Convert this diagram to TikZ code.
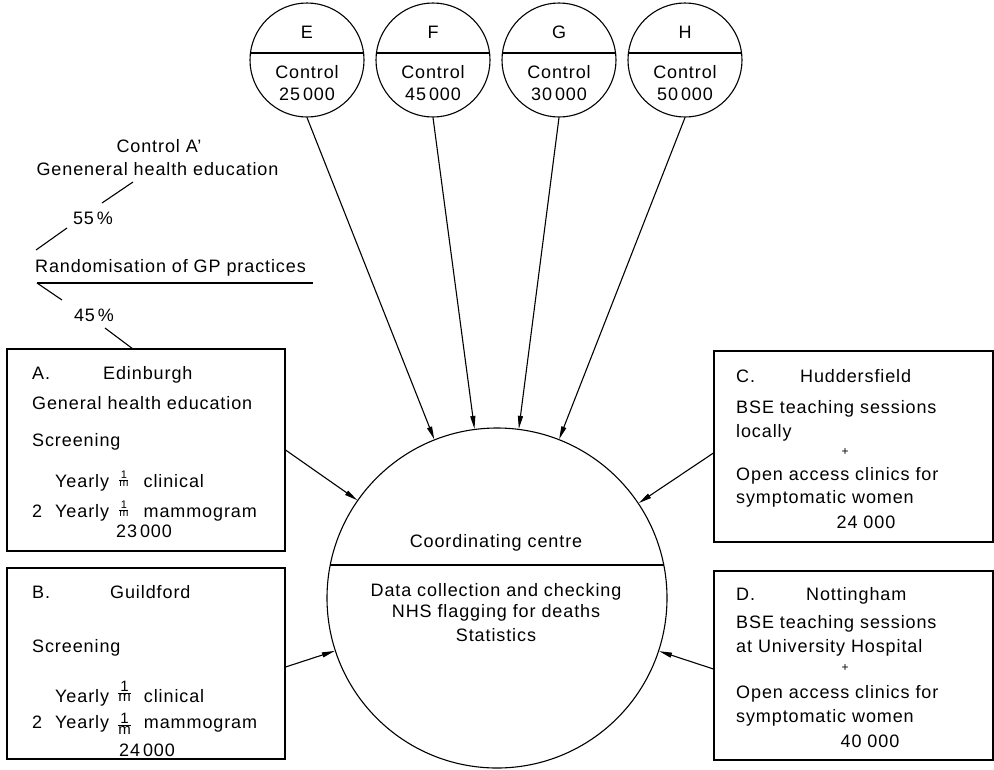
\documentclass[tikz,border=0pt]{standalone}
\usepackage{fontspec}
\setmainfont{Liberation Sans}[LetterSpace=5]
\usetikzlibrary{arrows.meta}
\newcommand{\fr}[2]{\raisebox{#2}{\fontsize{#1}{#1}\selectfont$\frac{\mbox{1}}{\mbox{m}}$}}
\begin{document}
\begin{tikzpicture}[x=1pt,y=-1pt,
  every node/.style={font=\fontsize{18}{22}\selectfont, inner sep=0pt},
  lt/.style={anchor=base west},
  ct/.style={anchor=base},
  frame/.style={draw, line width=1.1pt, rectangle},
  ring/.style={draw, line width=1.1pt, circle, minimum size=#1},
  conn/.style={line width=1.1pt},
  arr/.style={line width=1.1pt, -{Triangle[length=13pt,width=5pt]}}]

\useasboundingbox (0,0) rectangle (994,769);

% coordinating centre
\node[ring=340pt] (cc) at (497,598) {};
\coordinate (ccL) at (330.2,565);
\coordinate (ccR) at (663.8,565);
\draw[conn] (ccL) -- (ccR);
\node[ct] (cc1) at (496,547) {Coordinating centre};
\node[ct] (cc2) at (496,596) {Data collection and checking};
\node[ct] (cc3) at (496,617) {NHS flagging for deaths};
\node[ct] (cc4) at (496,641) {Statistics};

% control circles
\foreach \n/\x/\v in {E/307/25,F/433/45,G/559/30,H/685/50} {
  \node[ring=114pt] (c\n) at (\x,60) {};
  \draw[conn] ([xshift=-56.6pt,yshift=7pt]c\n.center) -- ([xshift=56.6pt,yshift=7pt]c\n.center);
  \node[ct] (l\n) at (\x,38) {\n};
  \node[ct] (k\n) at (\x,78) {Control};
  \node[ct] (v\n) at (\x,100) {\v\,000};
  \draw[arr] (c\n.south) -- (cc);
}

% boxes
\node[frame, minimum width=278pt, minimum height=202pt] (bA) at (146,450) {};
\node[frame, minimum width=278pt, minimum height=191pt] (bB) at (146,663.5) {};
\node[frame, minimum width=279pt, minimum height=191pt] (bC) at (853.5,446.5) {};
\node[frame, minimum width=279pt, minimum height=189pt] (bD) at (853.5,665.5) {};

\draw[arr] (bA.east) -- (cc);
\draw[arr] ([yshift=-3.5pt]bB.east) -- (cc);
\draw[arr] ([yshift=-6.5pt]bC.west) -- (cc);
\draw[arr] ([yshift=-3.5pt]bD.west) -- (cc);

% box A
\node[lt] (a1) at (32,379) {A.};
\node[lt] (a2) at (103,379) {Edinburgh};
\node[lt] (a3) at (32,409) {General health education};
\node[lt] (a4) at (32,446) {Screening};
\node[lt] (a5) at (55,487) {Yearly\hspace{9pt}\fr{11pt}{3.8pt}\hspace{14pt}clinical};
\node[lt] (a6n) at (32,517) {2};
\node[lt] (a6) at (55,517) {Yearly\hspace{9pt}\fr{11pt}{3.8pt}\hspace{14pt}mammogram};
\node[ct] (a7) at (144,537) {23\,000};

% box B
\node[lt] (b1) at (32,598) {B.};
\node[lt] (b2) at (110,598) {Guildford};
\node[lt] (b3) at (32,652) {Screening};
\node[lt] (b4) at (55,702) {Yearly\hspace{8pt}\fr{15pt}{5.2pt}\hspace{12pt}clinical};
\node[lt] (b5n) at (32,728) {2};
\node[lt] (b5) at (55,728) {Yearly\hspace{8pt}\fr{15pt}{-1pt}\hspace{12pt}mammogram};
\node[ct] (b6) at (147,756) {24\,000};

% box C
\node[lt] (c1) at (736,382) {C.};
\node[lt] (c2) at (800,382) {Huddersfield};
\node[lt] (c3) at (736,413) {BSE teaching sessions};
\node[lt] (c4) at (736,437) {locally};
\node[font=\fontsize{12}{12}\selectfont] (c5) at (845,452) {+};
\node[lt] (c6) at (736,480) {Open access clinics for};
\node[lt] (c7) at (736,503) {symptomatic women};
\node[ct] (c8) at (866,528) {24 000};

% box D
\node[lt] (d1) at (736,600) {D.};
\node[lt] (d2) at (806,600) {Nottingham};
\node[lt] (d3) at (736,628) {BSE teaching sessions};
\node[lt] (d4) at (736,652) {at University Hospital};
\node[font=\fontsize{12}{12}\selectfont] (d5) at (845,668) {+};
\node[lt] (d6) at (736,698) {Open access clinics for};
\node[lt] (d7) at (736,722) {symptomatic women};
\node[ct] (d8) at (870,747) {40 000};

% randomisation
\node[ct] (ca1) at (159,152) {Control A’};
\node[ct] (ca2) at (157.5,175) {Geneneral health education};
\node[ct] (p55) at (93,224) {55\,\%};
\node[lt] (rnd) at (35,272) {Randomisation of GP practices};
\node[ct] (p45) at (94,321) {45\,\%};

\coordinate (q1) at (133,182);
\coordinate (q2) at (102,203);
\coordinate (q3) at (67,228);
\coordinate (q4) at (36,250);
\coordinate (u1) at (37,283);
\coordinate (u2) at (313,283);
\coordinate (q5) at (62,300);
\coordinate (q6) at (105,328);
\coordinate (q7) at (133,349);
\draw[conn] (q1) -- (q2);
\draw[conn] (q3) -- (q4);
\draw[conn] (u1) -- (u2);
\draw[conn] (u1) -- (q5);
\draw[conn] (q6) -- (q7);
\end{tikzpicture}
\end{document}
